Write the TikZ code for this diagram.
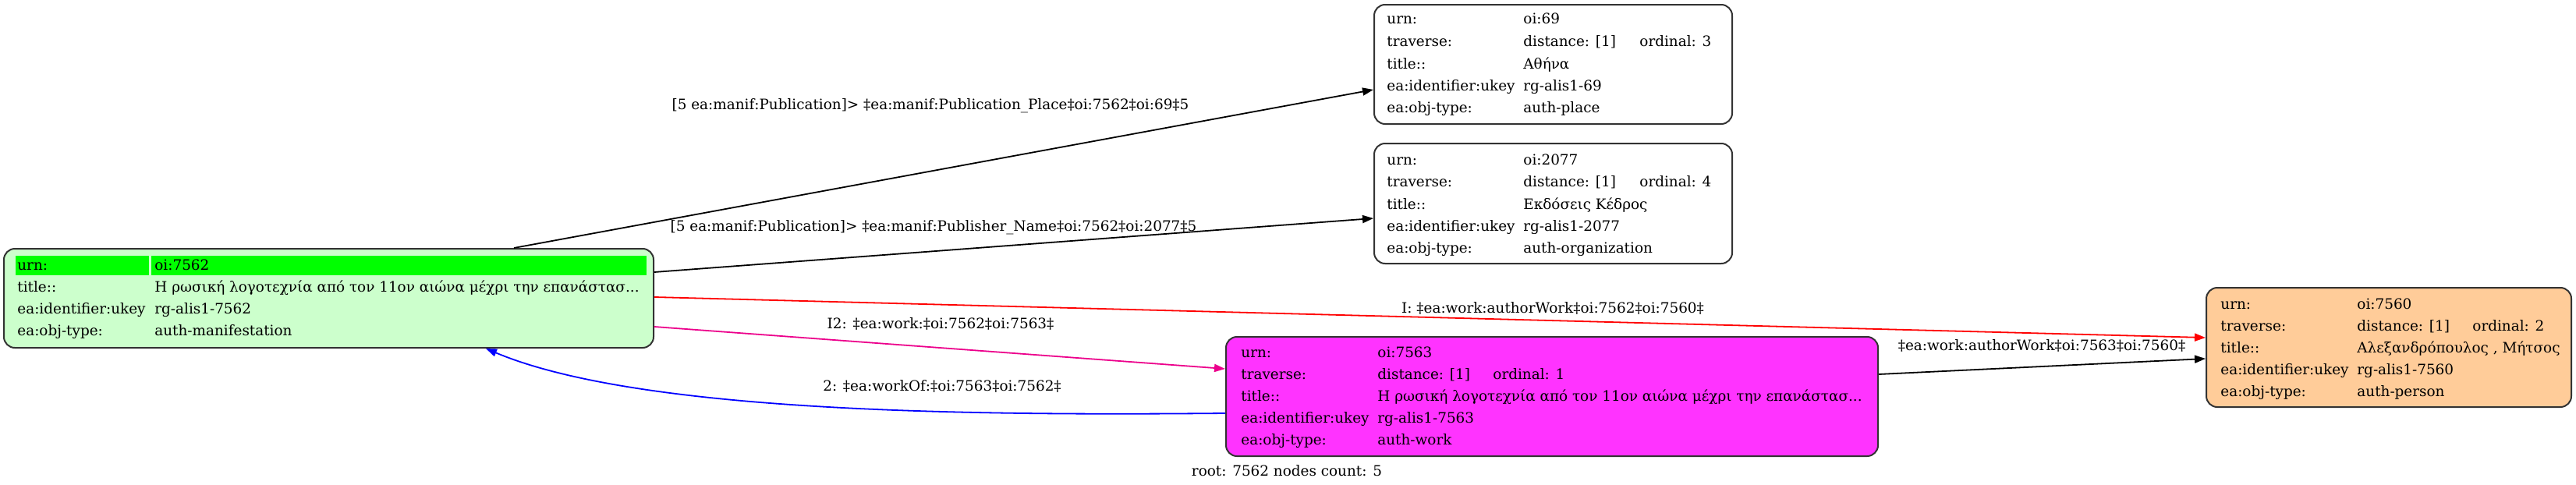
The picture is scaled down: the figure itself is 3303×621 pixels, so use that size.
\documentclass[tikz,border=0pt]{standalone}
\usepackage{fontspec}
\setmainfont{DejaVu Serif}
\usetikzlibrary{arrows.meta,calc}
\definecolor{gbg}{HTML}{CCFFCC}
\definecolor{ghd}{HTML}{00FF00}
\definecolor{mag}{HTML}{FF33FF}
\definecolor{org}{HTML}{FFCC99}
\definecolor{bord}{HTML}{333333}
\begin{document}
\begin{tikzpicture}[x=0.5pt,y=-0.5pt,font=\fontsize{9.2}{11}\selectfont,
  box/.style={draw=bord, line width=1pt, rounded corners=7pt, inner sep=0pt},
  txt/.style={anchor=base west, inner sep=0pt},
  lbl/.style={anchor=base, inner sep=0pt},
  conn/.style={line width=0.9pt, -{Triangle[length=7pt,width=5pt]}}]
\useasboundingbox (0,0) rectangle (3303,621);
% boxes
\node[box, fill=gbg, minimum width=416.5pt, minimum height=63.5pt] (n7562) at (421.5,382.5) {};
\node[box, fill=white, minimum width=229.5pt, minimum height=76.5pt] (n69) at (1991.5,82.5) {};
\node[box, fill=white, minimum width=229.5pt, minimum height=77pt] (n2077) at (1991.5,261) {};
\node[box, fill=mag, minimum width=418pt, minimum height=76.5pt] (n7563) at (1990,508.5) {};
\node[box, fill=org, minimum width=234pt, minimum height=76.5pt] (n7560) at (3063,445.5) {};
% header of root
\fill[ghd] (20,328) rectangle (191,353);
\fill[ghd] (194,328) rectangle (829,353);
% n7562 texts
\node[txt] (a1) at (22,346) {urn:};
\node[txt] (a2) at (198,346) {oi:7562};
\node[txt] (a3) at (22,374) {title::};
\node[txt] (a4) at (198,374) {Η ρωσική λογοτεχνία από τον 11ον αιώνα μέχρι την επανάστασ...};
\node[txt] (a5) at (22,402) {ea:identifier:ukey};
\node[txt] (a6) at (198,402) {rg-alis1-7562};
\node[txt] (a7) at (22,430) {ea:obj-type:};
\node[txt] (a8) at (198,430) {auth-manifestation};
% n69 texts
\node[txt] (b1) at (1778,31) {urn:};
\node[txt] (b2) at (1953,31) {oi:69};
\node[txt] (b3) at (1778,59) {traverse:};
\node[txt] (b4) at (1953,59) {distance: [1]};
\node[txt] (b5) at (2102,59) {ordinal: 3};
\node[txt] (b6) at (1778,88) {title::};
\node[txt] (b7) at (1953,88) {Αθήνα};
\node[txt] (b8) at (1778,116) {ea:identifier:ukey};
\node[txt] (b9) at (1953,116) {rg-alis1-69};
\node[txt] (b10) at (1778,144) {ea:obj-type:};
\node[txt] (b11) at (1953,144) {auth-place};
% n2077 texts
\node[txt] (c1) at (1778,211) {urn:};
\node[txt] (c2) at (1953,211) {oi:2077};
\node[txt] (c3) at (1778,239) {traverse:};
\node[txt] (c4) at (1953,239) {distance: [1]};
\node[txt] (c5) at (2102,239) {ordinal: 4};
\node[txt] (c6) at (1778,268) {title::};
\node[txt] (c7) at (1953,268) {Εκδόσεις Κέδρος};
\node[txt] (c8) at (1778,296) {ea:identifier:ukey};
\node[txt] (c9) at (1953,296) {rg-alis1-2077};
\node[txt] (c10) at (1778,324) {ea:obj-type:};
\node[txt] (c11) at (1953,324) {auth-organization};
% n7563 texts
\node[txt] (d1) at (1591,458) {urn:};
\node[txt] (d2) at (1766,458) {oi:7563};
\node[txt] (d3) at (1591,486) {traverse:};
\node[txt] (d4) at (1766,486) {distance: [1]};
\node[txt] (d5) at (1914,486) {ordinal: 1};
\node[txt] (d6) at (1591,514) {title::};
\node[txt] (d7) at (1766,514) {Η ρωσική λογοτεχνία από τον 11ον αιώνα μέχρι την επανάστασ...};
\node[txt] (d8) at (1591,542) {ea:identifier:ukey};
\node[txt] (d9) at (1766,542) {rg-alis1-7563};
\node[txt] (d10) at (1591,570) {ea:obj-type:};
\node[txt] (d11) at (1766,570) {auth-work};
% n7560 texts
\node[txt] (e1) at (2847,396) {urn:};
\node[txt] (e2) at (3022,396) {oi:7560};
\node[txt] (e3) at (2847,424) {traverse:};
\node[txt] (e4) at (3022,424) {distance: [1]};
\node[txt] (e5) at (3170,424) {ordinal: 2};
\node[txt] (e6) at (2847,452) {title::};
\node[txt] (e7) at (3022,452) {Αλεξανδρόπουλος , Μήτσος};
\node[txt] (e8) at (2847,480) {ea:identifier:ukey};
\node[txt] (e9) at (3022,480) {rg-alis1-7560};
\node[txt] (e10) at (2847,508) {ea:obj-type:};
\node[txt] (e11) at (3022,508) {auth-person};
% edges
\draw[conn] ($(n7562.north west)+(655,0)$) -- ($(n69.west)+(0,32.5)$);
\draw[conn] ($(n7562.north east)+(0,31)$) -- ($(n2077.west)+(0,19)$);
\draw[conn, red] ($(n7562.east)+(0,-1.5)$) -- ($(n7560.west)+(0,-12.5)$);
\draw[conn, magenta] ($(n7562.east)+(0,36.5)$) -- ($(n7563.west)+(0,-35.5)$);
\draw[conn, blue] ($(n7563.west)+(0,21.5)$) .. controls (1250,533) and (820,530) .. ($(n7562.south west)+(619,0)$);
\draw[conn] ($(n7563.east)+(0,-28.5)$) -- ($(n7560.west)+(0,14.5)$);
% edge labels
\node[lbl] (l1) at (1193,140) {[5 ea:manif:Publication]> ‡ea:manif:Publication\_Place‡oi:7562‡oi:69‡5};
\node[lbl] (l2) at (1197,296) {[5 ea:manif:Publication]> ‡ea:manif:Publisher\_Name‡oi:7562‡oi:2077‡5};
\node[lbl] (l3) at (1991,401) {I: ‡ea:work:authorWork‡oi:7562‡oi:7560‡};
\node[lbl] (l4) at (1206,421) {I2: ‡ea:work:‡oi:7562‡oi:7563‡};
\node[lbl] (l5) at (1208,501) {2: ‡ea:workOf:‡oi:7563‡oi:7562‡};
\node[lbl] (l6) at (2618,449) {‡ea:work:authorWork‡oi:7563‡oi:7560‡};
\node[lbl] (foot) at (1650,610) {root: 7562 nodes count: 5};
\end{tikzpicture}
\end{document}
